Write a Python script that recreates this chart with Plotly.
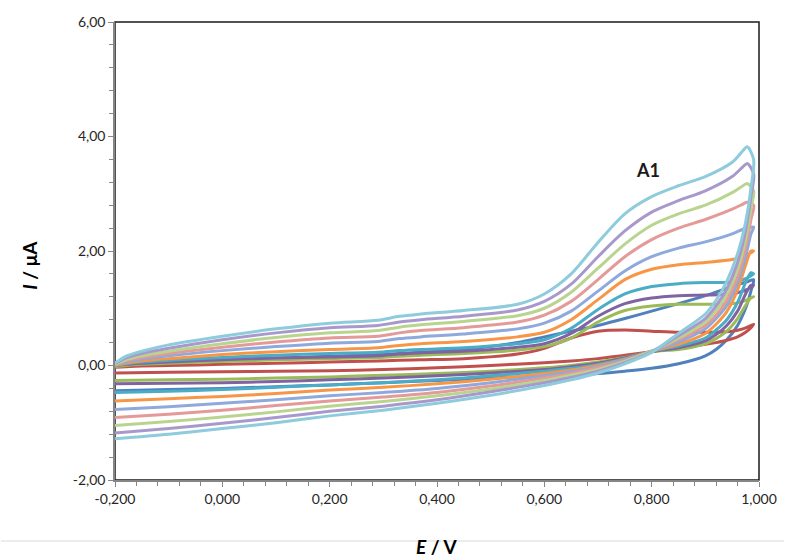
import plotly.graph_objects as go

# Potential grids (V)
E_FWD = [-0.2, -0.18, -0.15, -0.1, 0.0, 0.1, 0.2, 0.29, 0.33, 0.37, 0.45, 0.55, 0.6, 0.65, 0.7, 0.75, 0.8, 0.85, 0.9, 0.95, 0.97, 0.978, 0.99]
E_REV = [0.99, 0.985, 0.975, 0.96, 0.94, 0.92, 0.9, 0.85, 0.8, 0.75, 0.7, 0.65, 0.6, 0.5, 0.4, 0.3, 0.2, 0.1, 0.0, -0.1, -0.2]

# Currents (uA), forward sweep
blue_fwd = [0.0, 0.02, 0.04, 0.06, 0.1, 0.13, 0.16, 0.19, 0.21, 0.23, 0.28, 0.4, 0.5, 0.6, 0.7, 0.82, 0.95, 1.08, 1.22, 1.38, 1.44, 1.46, 1.5]
red_fwd = [-0.03, -0.02, -0.01, 0.0, 0.02, 0.04, 0.06, 0.08, 0.09, 0.1, 0.12, 0.2, 0.3, 0.48, 0.6, 0.62, 0.6, 0.58, 0.58, 0.6, 0.64, 0.67, 0.72]
green_fwd = [-0.02, 0.0, 0.02, 0.04, 0.07, 0.1, 0.12, 0.14, 0.16, 0.18, 0.21, 0.27, 0.33, 0.48, 0.76, 0.96, 1.04, 1.07, 1.07, 1.08, 1.12, 1.15, 1.2]
purple_fwd = [-0.01, 0.02, 0.04, 0.06, 0.1, 0.13, 0.15, 0.17, 0.2, 0.22, 0.25, 0.32, 0.38, 0.56, 0.86, 1.08, 1.18, 1.22, 1.23, 1.25, 1.3, 1.33, 1.4]
aqua_fwd = [0.0, 0.03, 0.06, 0.09, 0.14, 0.18, 0.21, 0.23, 0.26, 0.28, 0.31, 0.38, 0.45, 0.65, 0.98, 1.25, 1.38, 1.43, 1.45, 1.46, 1.5, 1.53, 1.6]
orange_fwd = [0.0, 0.04, 0.08, 0.12, 0.19, 0.24, 0.28, 0.31, 0.35, 0.38, 0.42, 0.5, 0.58, 0.8, 1.15, 1.5, 1.68, 1.76, 1.8, 1.85, 1.9, 1.93, 2.0]
lblue_fwd = [0.01, 0.06, 0.11, 0.17, 0.26, 0.33, 0.39, 0.42, 0.47, 0.5, 0.55, 0.64, 0.74, 0.95, 1.3, 1.65, 1.9, 2.05, 2.16, 2.3, 2.38, 2.4, 2.42]
pink_fwd = [0.02, 0.08, 0.14, 0.21, 0.32, 0.41, 0.48, 0.51, 0.57, 0.61, 0.66, 0.76, 0.88, 1.12, 1.5, 1.9, 2.2, 2.4, 2.55, 2.73, 2.82, 2.85, 2.8]
lgreen_fwd = [0.02, 0.1, 0.17, 0.25, 0.38, 0.49, 0.57, 0.61, 0.67, 0.71, 0.77, 0.87, 1.0, 1.28, 1.7, 2.12, 2.45, 2.65, 2.8, 3.02, 3.14, 3.18, 3.05]
lpurple_fwd = [0.03, 0.13, 0.21, 0.3, 0.45, 0.57, 0.66, 0.7, 0.76, 0.8, 0.86, 0.97, 1.12, 1.42, 1.9, 2.35, 2.68, 2.88, 3.05, 3.3, 3.47, 3.53, 3.35]
laqua_fwd = [0.04, 0.16, 0.25, 0.36, 0.51, 0.64, 0.74, 0.79, 0.86, 0.9, 0.96, 1.07, 1.25, 1.6, 2.15, 2.65, 2.95, 3.14, 3.3, 3.55, 3.75, 3.82, 3.6]

# Currents (uA), reverse sweep
blue_rev = [1.5, 1.3, 1.0, 0.7, 0.45, 0.28, 0.17, 0.03, -0.05, -0.1, -0.14, -0.16, -0.18, -0.22, -0.26, -0.3, -0.34, -0.37, -0.4, -0.42, -0.44]
red_rev = [0.72, 0.66, 0.58, 0.5, 0.44, 0.4, 0.37, 0.31, 0.24, 0.18, 0.12, 0.08, 0.05, 0.0, -0.04, -0.07, -0.09, -0.1, -0.11, -0.12, -0.13]
green_rev = [1.2, 1.18, 1.05, 0.82, 0.6, 0.47, 0.38, 0.28, 0.24, 0.14, 0.06, 0.0, -0.04, -0.1, -0.14, -0.17, -0.2, -0.22, -0.24, -0.25, -0.26]
purple_rev = [1.4, 1.4, 1.25, 0.95, 0.7, 0.54, 0.43, 0.31, 0.24, 0.13, 0.04, -0.02, -0.07, -0.13, -0.18, -0.22, -0.25, -0.28, -0.3, -0.31, -0.32]
aqua_rev = [1.6, 1.62, 1.45, 1.1, 0.8, 0.62, 0.48, 0.34, 0.25, 0.12, 0.02, -0.05, -0.1, -0.18, -0.25, -0.3, -0.34, -0.38, -0.42, -0.45, -0.47]
orange_rev = [2.0, 2.0, 1.75, 1.32, 0.94, 0.72, 0.56, 0.37, 0.25, 0.11, 0.0, -0.08, -0.14, -0.24, -0.32, -0.38, -0.43, -0.49, -0.54, -0.58, -0.62]
lblue_rev = [2.42, 2.3, 1.9, 1.45, 1.05, 0.82, 0.64, 0.41, 0.25, 0.1, -0.02, -0.11, -0.18, -0.3, -0.4, -0.47, -0.53, -0.6, -0.66, -0.72, -0.77]
pink_rev = [2.8, 2.55, 2.05, 1.55, 1.14, 0.88, 0.7, 0.45, 0.25, 0.08, -0.04, -0.14, -0.22, -0.36, -0.47, -0.55, -0.62, -0.7, -0.78, -0.85, -0.91]
lgreen_rev = [3.05, 2.75, 2.2, 1.68, 1.24, 0.96, 0.76, 0.48, 0.25, 0.07, -0.07, -0.17, -0.26, -0.41, -0.53, -0.63, -0.71, -0.81, -0.9, -0.98, -1.05]
lpurple_rev = [3.35, 2.95, 2.35, 1.8, 1.34, 1.04, 0.82, 0.52, 0.24, 0.05, -0.1, -0.21, -0.3, -0.46, -0.6, -0.71, -0.8, -0.91, -1.01, -1.1, -1.18]
laqua_rev = [3.6, 3.1, 2.5, 1.95, 1.47, 1.14, 0.9, 0.56, 0.23, 0.03, -0.13, -0.25, -0.35, -0.52, -0.66, -0.78, -0.88, -1.0, -1.1, -1.2, -1.28]

series_colors = ["#4F81BD", "#C0504D", "#9BBB59", "#8064A2", "#4BACC6", "#F79646",
                 "#8EA9DB", "#E39A98", "#B9D48E", "#A899CC", "#8ECBDC"]
series_fwd = [blue_fwd, red_fwd, green_fwd, purple_fwd, aqua_fwd, orange_fwd,
              lblue_fwd, pink_fwd, lgreen_fwd, lpurple_fwd, laqua_fwd]
series_rev = [blue_rev, red_rev, green_rev, purple_rev, aqua_rev, orange_rev,
              lblue_rev, pink_rev, lgreen_rev, lpurple_rev, laqua_rev]

x_ticks = [-0.2, 0.0, 0.2, 0.4, 0.6, 0.8, 1.0]
x_tick_labels = ["-0,200", "0,000", "0,200", "0,400", "0,600", "0,800", "1,000"]
y_ticks = [-2, 0, 2, 4, 6]
y_tick_labels = ["-2,00", "0,00", "2,00", "4,00", "6,00"]

fig = go.Figure()
for col, fw, rv in zip(series_colors, series_fwd, series_rev):
    fig.add_trace(go.Scatter(
        x=E_FWD + E_REV[1:], y=fw + rv[1:], mode="lines",
        line=dict(color=col, width=3, shape="spline", smoothing=0.8),
        showlegend=False, hoverinfo="skip"))

FONT = "Lato, 'Open Sans', sans-serif"
fig.update_layout(
    width=789, height=559,
    margin=dict(l=115, r=25, t=22, b=79),
    paper_bgcolor="white", plot_bgcolor="white",
    font=dict(family=FONT, size=14, color="#262626"),
    xaxis=dict(range=[-0.2, 1.0], tickvals=x_ticks, ticktext=x_tick_labels,
               showgrid=False, zeroline=False, showline=True, linecolor="#868686", linewidth=1.5,
               ticks="outside", ticklen=5, tickcolor="#868686", tickwidth=1,
               minor=dict(dtick=0.04, tick0=-0.2, ticks="outside", ticklen=4, tickcolor="#868686", showgrid=False),
               tickfont=dict(size=14)),
    yaxis=dict(range=[-2, 6], tickvals=y_ticks, ticktext=y_tick_labels,
               showgrid=False, zeroline=False, showline=True, linecolor="#868686", linewidth=1.5,
               ticks="outside", ticklen=5, tickcolor="#868686", tickwidth=1,
               minor=dict(dtick=0.4, tick0=-2, ticks="outside", ticklen=4, tickcolor="#868686", showgrid=False),
               tickfont=dict(size=14)),
    shapes=[
        dict(type="rect", xref="paper", yref="paper", x0=0, x1=1, y0=0, y1=1,
             line=dict(color="#1a1a1a", width=1.5), layer="below"),
        dict(type="line", xref="paper", yref="paper", x0=-115/649, x1=674/649,
             y0=-61/458, y1=-61/458, line=dict(color="#D9D9D9", width=1)),
    ],
    annotations=[
        dict(text="<b><i>I</i> / μA</b>", xref="paper", yref="paper", x=-87/649, y=215/458,
             showarrow=False, textangle=-90, font=dict(size=19, color="#000000"),
             xanchor="center", yanchor="middle"),
        dict(text="<b><i>E</i> / V</b>", xref="paper", yref="paper", x=325/649, y=-66/458,
             showarrow=False, font=dict(size=19, color="#000000"),
             xanchor="center", yanchor="middle"),
        dict(text="<b>A1</b>", xref="x", yref="y", x=0.794, y=3.41,
             showarrow=False, font=dict(size=18, color="#1a1a1a"),
             xanchor="center", yanchor="middle"),
    ],
)

fig.write_html("out.html", config={"displayModeBar": False},
               post_script="document.body.style.margin='0';document.body.style.overflow='hidden';")
